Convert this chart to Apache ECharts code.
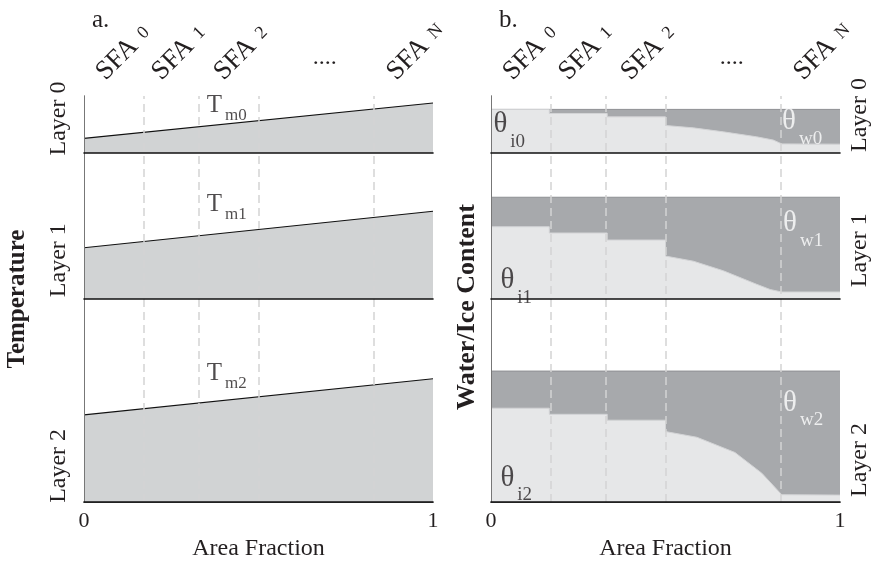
<!DOCTYPE html>
<html>
<head>
<meta charset="utf-8">
<script src="https://cdn.jsdelivr.net/npm/echarts@6/dist/echarts.min.js"></script>
<style>
html, body { margin: 0; padding: 0; background: #fff; }
#chart { width: 878px; height: 574px; }
</style>
</head>
<body>
<div id="chart"></div>
<script>
const FONT = 'Liberation Serif'
const INK = '#231f20'

// categories / labels
const layerNames = ['Layer 0', 'Layer 1', 'Layer 2']
const sfaNames = ['0', '1', '2', 'N']
const sfaLabelAt = [0.047, 0.207, 0.385, 0.88]
const dotsAt = 0.69
const sfaBounds = [0.167, 0.333, 0.5, 0.833]
const layerLabelA = [0.605, 0.266, 0.178]
const layerLabelB = [0.667, 0.334, 0.207]

// panel a: melt temperature per layer (fraction of layer height)
const tmStart = [0.257, 0.351, 0.429]
const tmEnd = [0.878, 0.601, 0.607]
const tmLabelAt = [[0.352, 0.82], [0.352, 0.644], [0.352, 0.63]]

// panel b: total water+ice and ice content per layer
const waterTotal = [0.765, 0.697, 0.645]
const ice0 = [[0, 0.765], [0.167, 0.765], [0.167, 0.693], [0.333, 0.693], [0.333, 0.634], [0.5, 0.634],
  [0.5, 0.483], [0.58, 0.441], [0.666, 0.371], [0.761, 0.284], [0.809, 0.227], [0.833, 0.16], [1, 0.155]]
const ice1 = [[0, 0.495], [0.167, 0.495], [0.167, 0.452], [0.333, 0.452], [0.333, 0.404], [0.5, 0.404],
  [0.5, 0.294], [0.58, 0.259], [0.666, 0.193], [0.761, 0.101], [0.8, 0.065], [0.833, 0.048], [1, 0.048]]
const ice2 = [[0, 0.462], [0.167, 0.462], [0.167, 0.432], [0.333, 0.432], [0.333, 0.403], [0.5, 0.403],
  [0.5, 0.347], [0.59, 0.319], [0.699, 0.244], [0.776, 0.142], [0.833, 0.036], [1, 0.034]]
const iceProfiles = [ice0, ice1, ice2]
const iceLabelAt = [[0.007, 0.52], [0.027, 0.135], [0.027, 0.124]]
const waterLabelAt = [[0.834, 0.576], [0.837, 0.527], [0.837, 0.493]]

const panelLeft = [84, 491]
const panelWidth = 349
const layerTop = [96, 153, 299]
const layerHeight = [57, 146, 203]

const chart = echarts.init(document.getElementById('chart'))

const grid = []
const xAxis = []
const yAxis = []
const series = []

const font = (size, extra) => Object.assign({ fontFamily: FONT, fontSize: size, color: INK }, extra || {})

const subRich = (bigSize, subSize, drop, color) => ({
  b: { fontFamily: FONT, fontSize: bigSize, lineHeight: bigSize, verticalAlign: 'top', color: color },
  s: { fontFamily: FONT, fontSize: subSize, lineHeight: subSize, verticalAlign: 'top', color: color, padding: [drop, 0, 0, 3] }
})

function labelSeries(xi, yi, point, big, sub, rich, offset) {
  return {
    type: 'scatter', xAxisIndex: xi, yAxisIndex: yi, z: 6, silent: true,
    symbolSize: 0, clip: false,
    data: [point],
    label: {
      show: true, position: 'right', distance: 0, offset: offset,
      formatter: '{b|' + big + '}{s|' + sub + '}', rich: rich
    }
  }
}

panelLeft.forEach((left, p) => {
  // full panel grid: frame sides, top SFA labels, bottom 0/1, axis title, dashed SFA lines
  const g = grid.length
  grid.push({ left: left, top: layerTop[0], width: panelWidth, height: 406 })
  const topX = xAxis.length
  xAxis.push({
    gridIndex: g, type: 'value', position: 'top', min: 0, max: 1, z: 5,
    axisLine: { lineStyle: { color: '#555', width: 1 } },
    axisTick: { show: false }, splitLine: { show: false },
    axisLabel: {
      customValues: sfaLabelAt, rotate: 45, margin: 20,
      formatter: v => {
        const i = sfaLabelAt.findIndex(a => Math.abs(a - v) < 1e-6)
        return '{a|SFA}{s|' + sfaNames[i] + '}'
      },
      rich: {
        a: { fontFamily: FONT, fontSize: 27, lineHeight: 27, color: INK, verticalAlign: 'middle' },
        s: { fontFamily: FONT, fontSize: 18, lineHeight: 18, color: INK, verticalAlign: 'middle', padding: [0, 0, 0, 9] }
      }
    }
  })
  xAxis.push({
    gridIndex: g, type: 'value', position: 'bottom', min: 0, max: 1,
    axisLine: { show: false }, axisTick: { show: false }, splitLine: { show: false },
    axisLabel: Object.assign(font(22), { customValues: [0, 1], margin: 8, showMinLabel: true, showMaxLabel: true }),
    name: 'Area Fraction', nameLocation: 'middle', nameGap: 35,
    nameTextStyle: font(24)
  })
  const leftY = yAxis.length
  yAxis.push({
    gridIndex: g, type: 'value', position: 'left', min: 0, max: 1, z: 5,
    axisLine: { show: true, lineStyle: { color: '#666', width: 1 } },
    axisTick: { show: false }, splitLine: { show: false }, axisLabel: { show: false },
    name: p === 0 ? 'Temperature' : 'Water/Ice Content',
    nameLocation: 'middle', nameRotate: 90, nameGap: p === 0 ? 54 : 11,
    nameTextStyle: font(p === 0 ? 25 : 26, { fontWeight: 'bold', padding: p === 0 ? 0 : [0, 16, 0, 0] })
  })
  yAxis.push({
    gridIndex: g, type: 'value', position: 'right', min: 0, max: 1, z: 5,
    axisLine: { show: true, lineStyle: { color: '#777', width: 1 } },
    axisTick: { show: false }, splitLine: { show: false }, axisLabel: { show: false }
  })
  series.push({
    type: 'line', xAxisIndex: topX, yAxisIndex: leftY, z: 4, silent: true,
    data: [[0, 0]], showSymbol: false, lineStyle: { width: 0 },
    markLine: {
      silent: true, symbol: 'none', label: { show: false },
      lineStyle: { color: '#d4d4d4', type: [8, 5], width: 1.5 },
      data: sfaBounds.map(v => ({ xAxis: v }))
    }
  })

  // layer grids
  layerNames.forEach((name, l) => {
    const lg = grid.length
    grid.push({ left: left, top: layerTop[l], width: panelWidth, height: layerHeight[l] })
    const xi = xAxis.length
    xAxis.push({
      gridIndex: lg, type: 'value', min: 0, max: 1, z: 5,
      axisLine: { lineStyle: { color: '#111', width: 1.6 } },
      axisTick: { show: false }, splitLine: { show: false }, axisLabel: { show: false }
    })
    if (l === 0) {
      xAxis.push({
        gridIndex: lg, type: 'value', position: 'top', min: 0, max: 1,
        axisLine: { show: false }, axisTick: { show: false }, splitLine: { show: false },
        axisLabel: Object.assign(font(24), { customValues: [dotsAt], formatter: () => '....', margin: 26 })
      })
    }
    const yi = yAxis.length
    yAxis.push({
      gridIndex: lg, type: 'value', position: p === 0 ? 'left' : 'right', min: 0, max: 1,
      axisLine: { show: false }, axisTick: { show: false }, splitLine: { show: false },
      axisLabel: Object.assign(font(24), {
        customValues: [p === 0 ? layerLabelA[l] : layerLabelB[l]], rotate: 90, margin: p === 0 ? 13 : 8,
        formatter: () => name
      })
    })

    if (p === 0) {
      series.push({
        type: 'line', xAxisIndex: xi, yAxisIndex: yi, z: 2, silent: true,
        data: [[0, tmStart[l]], [1, tmEnd[l]]], showSymbol: false,
        lineStyle: { color: '#111', width: 1.1 },
        areaStyle: { color: '#d1d3d4', opacity: 1 }
      })
      series.push(labelSeries(xi, yi, tmLabelAt[l], 'T', 'm' + l, subRich(25, 17, 14, INK), [0, -0.5]))
    } else {
      series.push({
        type: 'line', xAxisIndex: xi, yAxisIndex: yi, z: 2, silent: true,
        data: [[0, waterTotal[l]], [1, waterTotal[l]]], showSymbol: false,
        lineStyle: { color: '#8e9093', width: 1 },
        areaStyle: { color: '#a7a9ac', opacity: 1 }
      })
      series.push({
        type: 'line', xAxisIndex: xi, yAxisIndex: yi, z: 3, silent: true,
        data: iceProfiles[l], showSymbol: false,
        lineStyle: { color: '#d3d4d6', width: 1 },
        areaStyle: { color: '#e6e7e8', opacity: 1 }
      })
      series.push(labelSeries(xi, yi, iceLabelAt[l], 'θ', 'i' + l, subRich(29, 19, 22, INK), [0, 1.5]))
      series.push(labelSeries(xi, yi, waterLabelAt[l], 'θ', 'w' + l, subRich(29, 19, 22, '#ffffff'), [0, 1.5]))
    }
  })
})

chart.setOption({
  animation: false,
  title: [
    { text: 'a.', left: 87, top: 3, textStyle: font(25, { fontWeight: 'normal' }) },
    { text: 'b.', left: 494, top: 3, textStyle: font(25, { fontWeight: 'normal' }) }
  ],
  grid: grid,
  xAxis: xAxis,
  yAxis: yAxis,
  series: series
})
</script>
</body>
</html>
